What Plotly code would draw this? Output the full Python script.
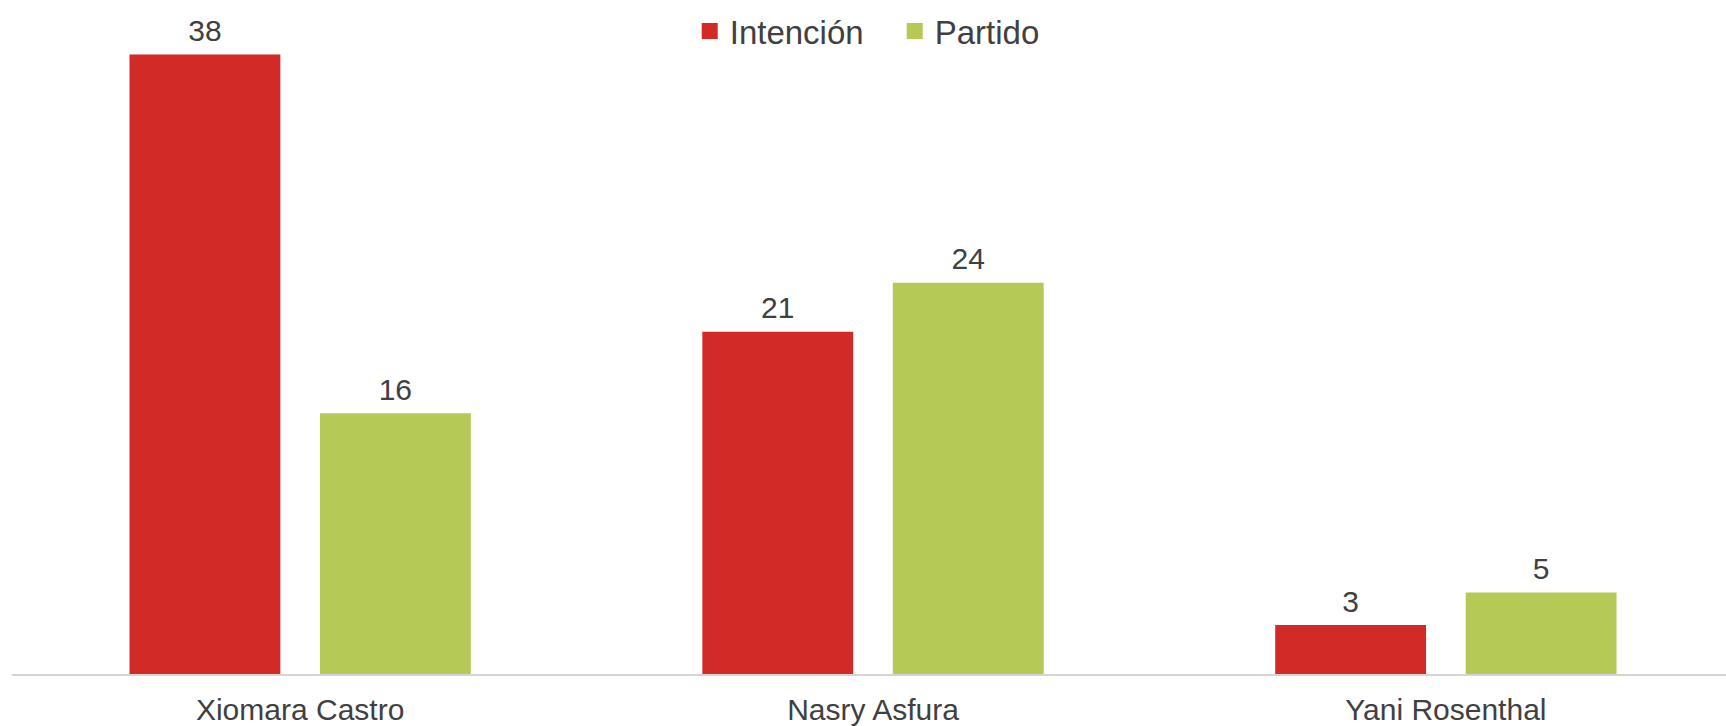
import plotly.graph_objects as go

categories = ["Xiomara Castro", "Nasry Asfura", "Yani Rosenthal"]
intencion = [38, 21, 3]
partido = [16, 24, 5]
series_names = ["Intención", "Partido"]

RED = "#D22B27"
GREEN = "#B5C957"
TXT = "#404040"
FONT = "Liberation Sans, Arial, sans-serif"
GAP = 0.335

fig = go.Figure()
groups = [(series_names[0], intencion, RED, "a"), (series_names[1], partido, GREEN, "b")]
for name, vals, col, grp in groups:
    fig.add_trace(go.Bar(
        name=name, x=categories, y=vals, marker=dict(color=col, line=dict(width=0)),
        offsetgroup=grp, showlegend=False, hoverinfo="x+y+name",
    ))
for name, vals, col, grp in groups:
    # value labels, grouped like the bars
    fig.add_trace(go.Scatter(
        x=categories, y=vals, mode="markers+text", text=[str(v) for v in vals],
        textposition="top center", offsetgroup=grp, cliponaxis=False,
        marker=dict(size=8, opacity=0, color=col),
        textfont=dict(size=30, color=TXT, family=FONT),
        showlegend=False, hoverinfo="skip",
    ))
    # legend entry
    fig.add_trace(go.Scatter(
        x=[categories[0]], y=[None], mode="markers", name=name, offsetgroup=grp,
        marker=dict(symbol="square", size=18, color=col), hoverinfo="skip",
    ))

fig.update_layout(
    width=1726, height=726,
    margin=dict(l=12, r=0, t=22, b=52, autoexpand=False),
    paper_bgcolor="white", plot_bgcolor="white",
    barmode="group", bargap=GAP, bargroupgap=0.208,
    scattermode="group", scattergap=GAP,
    font=dict(family=FONT, color=TXT, size=30),
    legend=dict(orientation="h", x=0.515, xanchor="center", y=0.986, yanchor="middle",
                font=dict(size=33, color=TXT), itemwidth=30, entrywidth=160,
                bgcolor="rgba(0,0,0,0)"),
    xaxis=dict(range=[-0.503, 2.489], showline=True, linecolor="#D4D4D4", linewidth=2,
               showgrid=False, zeroline=False, ticks="", automargin=False,
               ticklabelstandoff=8, tickfont=dict(size=30, color=TXT)),
    yaxis=dict(range=[0, 40], showgrid=False, zeroline=False, showticklabels=False,
               showline=False, automargin=False),
)

fig.write_html("out.html", config={"displayModeBar": False},
               post_script="document.body.style.margin='0';")
